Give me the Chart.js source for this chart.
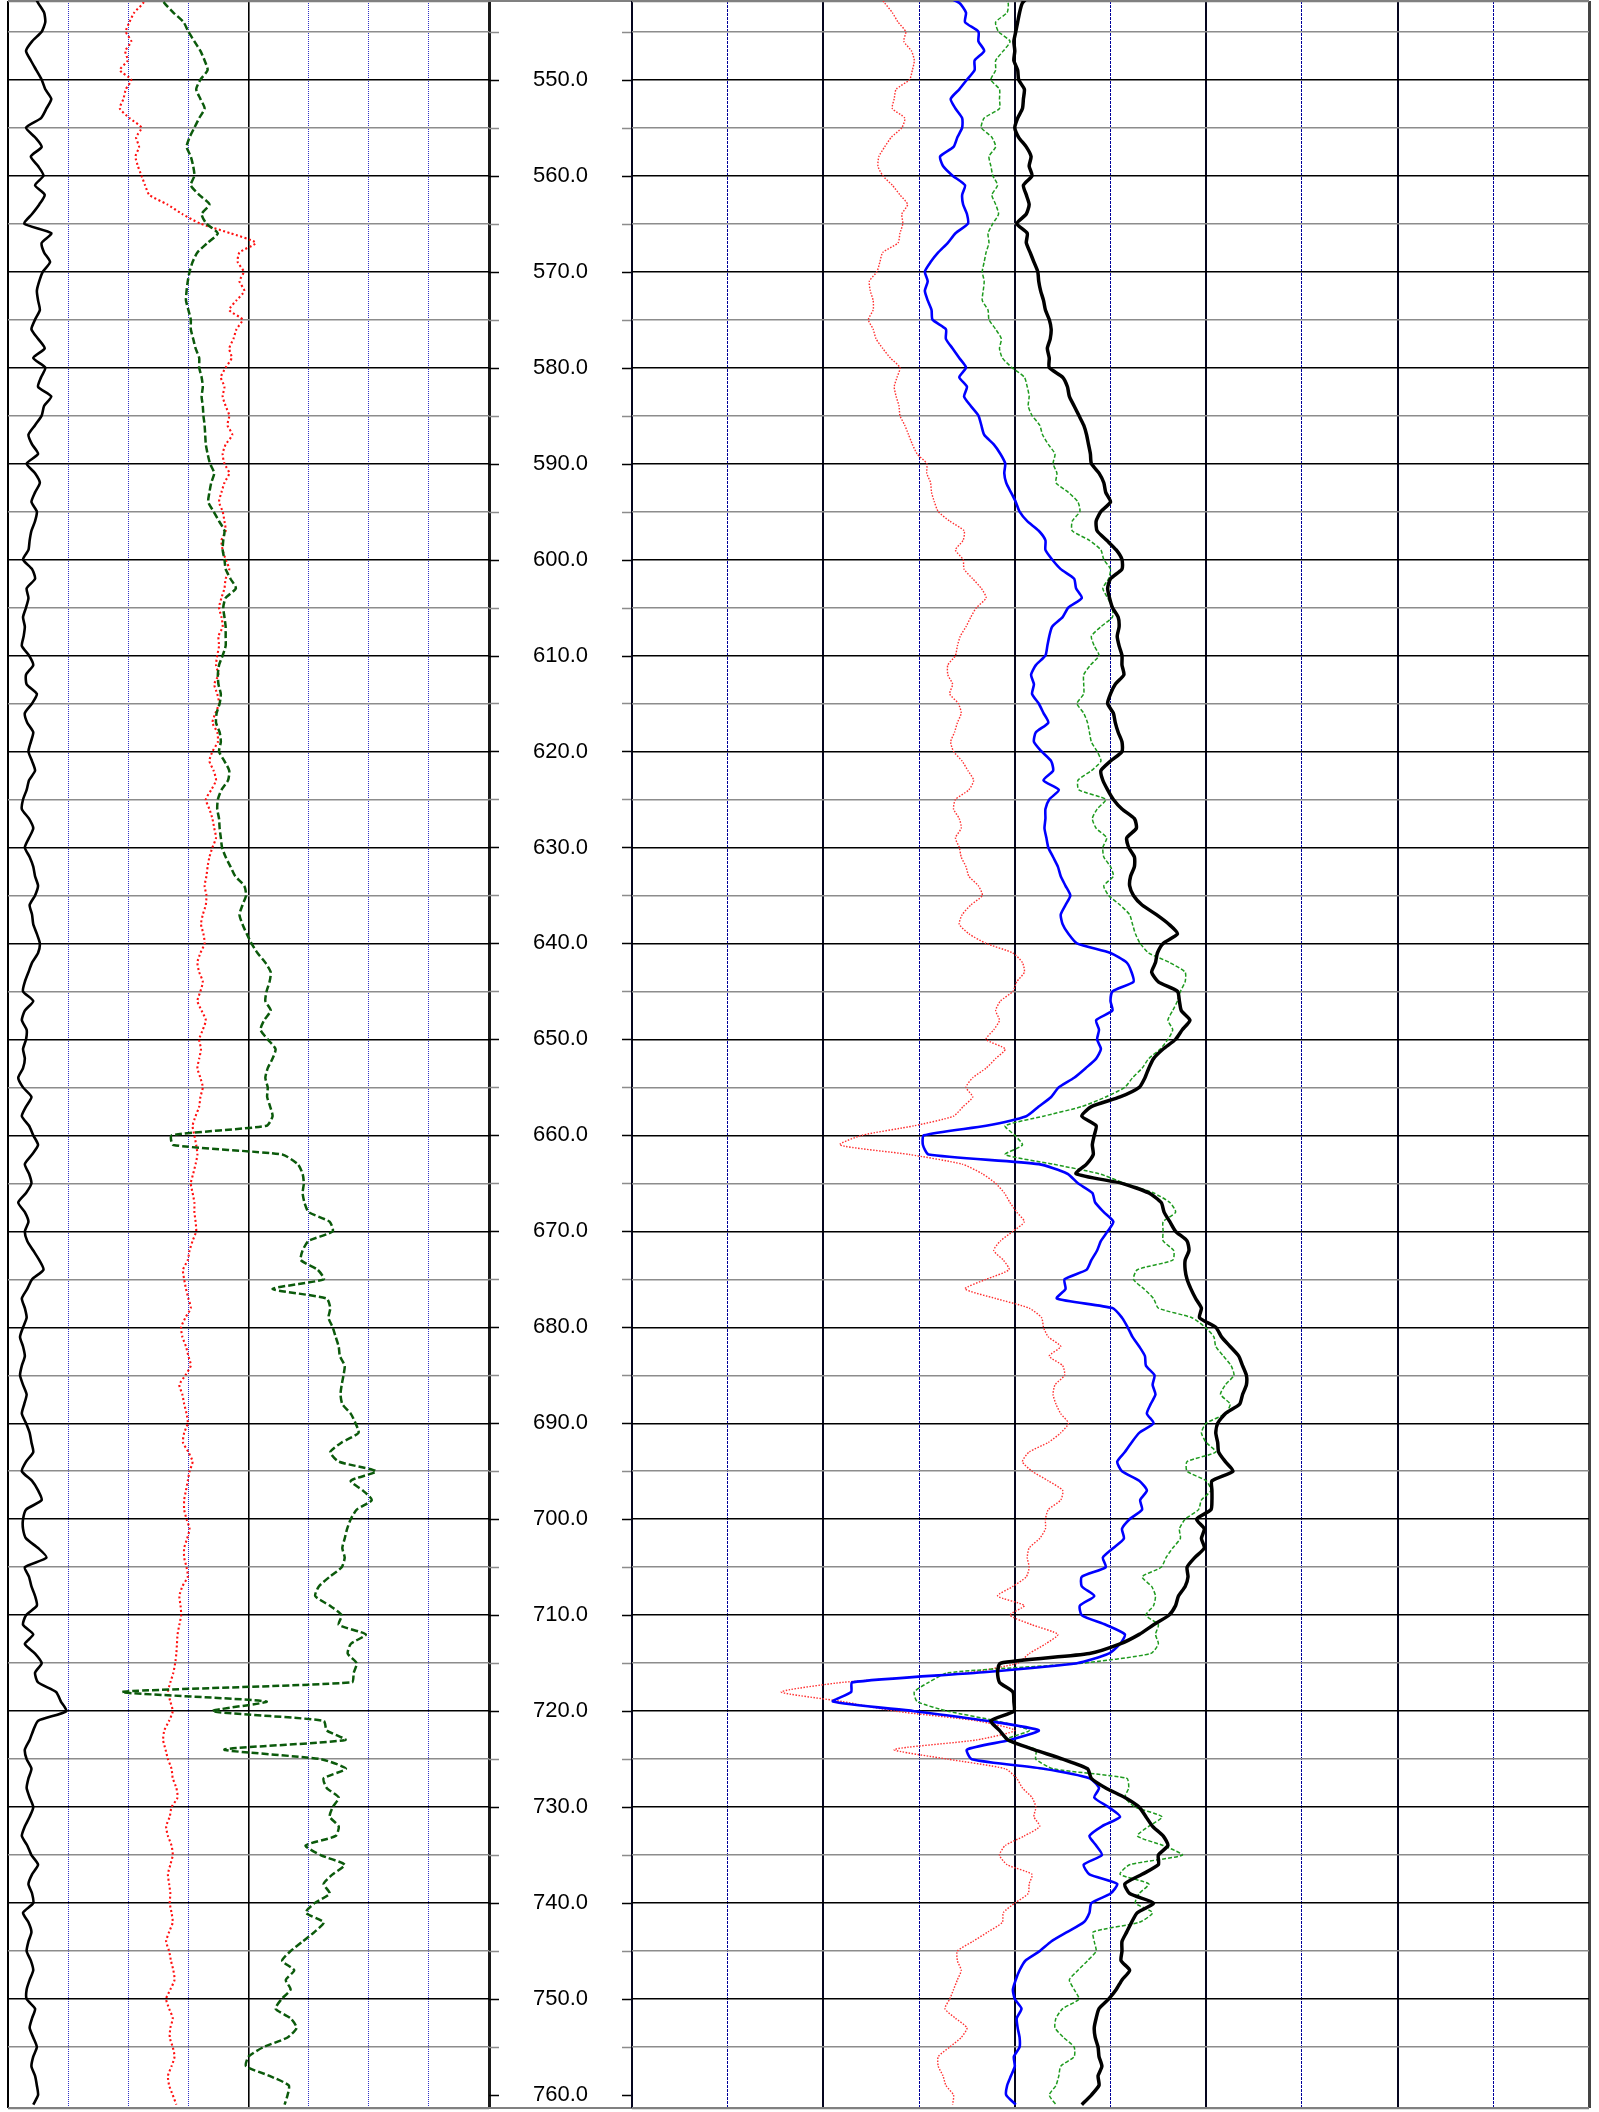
<!DOCTYPE html>
<html><head><meta charset="utf-8">
<script src="https://cdn.jsdelivr.net/npm/chart.js@4.4.1/dist/chart.umd.min.js"></script>
<style>
html,body{margin:0;padding:0;background:#fff;width:1599px;height:2112px;overflow:hidden;}
canvas{position:absolute;top:0;}
</style></head><body>
<canvas id="cl" width="489" height="2112" style="left:4px"></canvas>
<canvas id="cd" width="151" height="2112" style="left:485px"></canvas>
<canvas id="cr" width="965" height="2112" style="left:628px"></canvas>
<script>
// ---- depth index (category axis) ----
const depth = [541,542,543,544,545,546,547,548,549,550,551,552,553,554,555,556,557,558,559,560,
561,562,563,564,565,566,567,568,569,570,571,572,573,574,575,576,577,578,579,580,
581,582,583,584,585,586,587,588,589,590,591,592,593,594,595,596,597,598,599,600,
601,602,603,604,605,606,607,608,609,610,611,612,613,614,615,616,617,618,619,620,
621,622,623,624,625,626,627,628,629,630,631,632,633,634,635,636,637,638,639,640,
641,642,643,644,645,646,647,648,649,650,651,652,653,654,655,656,657,658,659,660,
661,662,663,664,665,666,667,668,669,670,671,672,673,674,675,676,677,678,679,680,
681,682,683,684,685,686,687,688,689,690,691,692,693,694,695,696,697,698,699,700,
701,702,703,704,705,706,707,708,709,710,711,712,713,714,715,716,717,718,719,720,
721,722,723,724,725,726,727,728,729,730,731,732,733,734,735,736,737,738,739,740,
741,742,743,744,745,746,747,748,749,750,751,752,753,754,755,756,757,758,759,760,761];

// depth track tick marks and labels
const depthTicks = [545,550,555,560,565,570,575,580,585,590,595,600,605,610,615,620,625,630,635,640,645,650,655,660,665,670,675,680,685,690,695,700,705,710,715,720,725,730,735,740,745,750,755,760];
const depthLabels = [550,560,570,580,590,600,610,620,630,640,650,660,670,680,690,700,710,720,730,740,750,760];

// ---- left track (divisions 0..8) ----
const leftBlack = [0.42,0.50,0.60,0.62,0.56,0.40,0.30,0.38,0.47,0.56,
0.62,0.72,0.64,0.55,0.30,0.45,0.56,0.38,0.50,0.59,
0.45,0.61,0.52,0.40,0.27,0.72,0.56,0.60,0.70,0.58,
0.52,0.48,0.50,0.53,0.45,0.39,0.50,0.61,0.42,0.62,
0.55,0.50,0.72,0.60,0.56,0.45,0.34,0.40,0.50,0.31,
0.45,0.53,0.45,0.39,0.48,0.45,0.39,0.36,0.34,0.25,
0.40,0.45,0.31,0.34,0.30,0.25,0.28,0.26,0.23,0.35,
0.42,0.30,0.31,0.48,0.40,0.28,0.32,0.42,0.38,0.34,
0.40,0.45,0.35,0.31,0.25,0.23,0.35,0.42,0.35,0.28,
0.36,0.42,0.45,0.50,0.45,0.36,0.40,0.42,0.48,0.53,
0.50,0.40,0.34,0.28,0.25,0.42,0.28,0.23,0.31,0.30,
0.25,0.28,0.25,0.17,0.25,0.39,0.30,0.23,0.35,0.42,
0.50,0.40,0.28,0.35,0.39,0.30,0.17,0.28,0.34,0.28,
0.32,0.42,0.52,0.59,0.40,0.32,0.23,0.28,0.31,0.25,
0.20,0.25,0.28,0.23,0.20,0.25,0.31,0.27,0.23,0.30,
0.36,0.39,0.42,0.30,0.23,0.40,0.50,0.56,0.30,0.25,
0.25,0.30,0.50,0.64,0.28,0.35,0.39,0.45,0.48,0.30,
0.25,0.42,0.28,0.45,0.56,0.45,0.50,0.80,0.88,0.97,
0.50,0.42,0.36,0.28,0.31,0.39,0.34,0.31,0.36,0.42,
0.36,0.28,0.23,0.32,0.39,0.50,0.40,0.34,0.40,0.42,
0.25,0.34,0.39,0.34,0.31,0.38,0.42,0.36,0.31,0.31,
0.45,0.40,0.36,0.42,0.48,0.42,0.39,0.45,0.48,0.50,0.42];

const leftRed = [2.30,2.25,2.10,2.02,1.96,2.05,1.95,1.99,1.86,2.05,
1.96,1.92,1.86,2.02,2.22,2.13,2.18,2.12,2.16,2.22,
2.28,2.35,2.65,2.90,3.20,3.70,4.12,3.85,3.82,3.92,
3.85,3.93,3.80,3.68,3.90,3.80,3.75,3.68,3.72,3.62,
3.54,3.60,3.57,3.62,3.68,3.65,3.73,3.62,3.57,3.60,
3.68,3.60,3.55,3.51,3.57,3.60,3.62,3.55,3.57,3.62,
3.68,3.62,3.60,3.55,3.51,3.55,3.57,3.50,3.51,3.48,
3.46,3.50,3.43,3.48,3.51,3.45,3.40,3.48,3.49,3.40,
3.35,3.42,3.46,3.38,3.29,3.35,3.40,3.43,3.46,3.40,
3.35,3.32,3.30,3.27,3.30,3.29,3.24,3.21,3.25,3.27,
3.20,3.15,3.18,3.24,3.20,3.15,3.22,3.29,3.24,3.18,
3.21,3.18,3.15,3.20,3.24,3.20,3.18,3.12,3.07,3.10,
3.13,3.15,3.12,3.08,3.04,3.07,3.10,3.10,3.12,3.13,
3.07,3.02,2.99,2.91,2.93,2.96,3.00,3.04,2.95,2.88,
2.90,2.96,3.00,3.04,2.95,2.85,2.90,2.93,2.97,2.99,
2.93,2.91,3.00,3.07,3.02,2.99,2.96,2.93,2.93,2.97,
3.02,2.98,2.93,2.93,2.97,2.99,2.90,2.85,2.87,2.88,
2.85,2.82,2.81,2.80,2.78,2.75,2.70,2.66,2.70,2.74,
2.68,2.60,2.58,2.62,2.66,2.72,2.74,2.80,2.82,2.72,
2.69,2.63,2.66,2.72,2.74,2.70,2.66,2.68,2.70,2.69,
2.72,2.74,2.68,2.63,2.68,2.71,2.75,2.77,2.70,2.63,
2.68,2.74,2.70,2.69,2.74,2.77,2.72,2.66,2.68,2.74,2.80];

const leftGreen = [2.50,2.60,2.75,2.92,3.00,3.10,3.20,3.27,3.32,3.20,
3.13,3.20,3.27,3.18,3.10,3.02,2.97,3.04,3.08,3.10,
3.04,3.18,3.35,3.22,3.30,3.49,3.32,3.15,3.07,3.02,
2.99,2.97,2.96,3.00,3.04,3.04,3.08,3.12,3.18,3.18,
3.22,3.24,3.22,3.24,3.25,3.27,3.28,3.29,3.32,3.36,
3.43,3.38,3.35,3.33,3.42,3.51,3.60,3.58,3.57,3.60,
3.62,3.70,3.79,3.62,3.58,3.60,3.62,3.62,3.62,3.57,
3.51,3.49,3.50,3.54,3.52,3.47,3.46,3.52,3.54,3.51,
3.60,3.68,3.66,3.55,3.49,3.48,3.51,3.52,3.54,3.56,
3.62,3.70,3.78,3.93,3.96,3.90,3.85,3.90,3.97,4.05,
4.15,4.28,4.37,4.35,4.30,4.28,4.37,4.26,4.20,4.32,
4.45,4.40,4.32,4.28,4.32,4.31,4.36,4.40,4.30,2.72,
2.75,4.56,4.82,4.90,4.92,4.90,4.93,5.00,5.35,5.40,
5.00,4.90,4.87,5.15,5.25,4.40,5.30,5.36,5.33,5.40,
5.45,5.50,5.52,5.60,5.58,5.55,5.53,5.56,5.70,5.78,
5.83,5.55,5.36,5.50,6.12,5.70,5.90,6.05,5.80,5.70,
5.64,5.60,5.56,5.60,5.55,5.35,5.17,5.11,5.35,5.55,
5.50,5.95,5.70,5.65,5.80,5.75,5.72,1.90,4.30,3.40,
5.25,5.30,5.61,3.60,5.20,5.62,5.25,5.30,5.50,5.40,
5.35,5.50,5.45,4.95,5.20,5.60,5.40,5.25,5.35,5.10,
4.95,5.25,5.10,4.90,4.70,4.56,4.76,4.62,4.70,4.55,
4.45,4.70,4.80,4.65,4.25,4.00,3.96,4.35,4.67,4.65,4.60];

// ---- right track (divisions 0..10) ----
const rightRed = [2.57,2.64,2.72,2.78,2.86,2.84,2.92,2.95,2.93,2.90,
2.76,2.74,2.72,2.85,2.82,2.71,2.64,2.58,2.57,2.62,
2.72,2.80,2.88,2.82,2.83,2.80,2.78,2.62,2.59,2.56,
2.48,2.49,2.52,2.52,2.47,2.52,2.55,2.62,2.70,2.80,
2.77,2.74,2.76,2.79,2.80,2.85,2.89,2.93,2.98,3.08,
3.08,3.12,3.13,3.16,3.20,3.32,3.47,3.46,3.38,3.46,
3.47,3.56,3.65,3.70,3.60,3.54,3.49,3.43,3.40,3.38,
3.30,3.30,3.35,3.32,3.41,3.44,3.40,3.37,3.33,3.36,
3.45,3.51,3.57,3.52,3.38,3.36,3.42,3.44,3.38,3.42,
3.44,3.49,3.52,3.62,3.66,3.54,3.45,3.42,3.52,3.70,
3.98,4.08,4.10,4.02,3.98,3.85,3.80,3.84,3.78,3.70,
3.90,3.80,3.70,3.56,3.49,3.56,3.46,3.36,2.95,2.40,
2.17,2.90,3.45,3.66,3.80,3.89,3.95,4.02,4.10,3.98,
3.85,3.78,3.88,3.94,3.70,3.48,3.80,4.15,4.28,4.30,
4.35,4.48,4.36,4.50,4.52,4.42,4.40,4.43,4.48,4.56,
4.48,4.35,4.15,4.08,4.18,4.35,4.50,4.48,4.35,4.32,
4.32,4.26,4.15,4.13,4.15,4.12,3.98,3.82,4.10,3.95,
4.18,4.45,4.32,4.15,4.03,3.50,2.20,1.56,2.20,2.75,
3.60,4.00,3.60,2.74,3.30,3.90,4.02,4.08,4.18,4.22,
4.20,4.26,4.10,3.90,3.84,3.92,4.18,4.15,4.14,4.00,
3.88,3.87,3.72,3.56,3.40,3.40,3.44,3.40,3.36,3.32,
3.27,3.38,3.50,3.44,3.32,3.20,3.20,3.25,3.28,3.36,3.35];

const rightBlue = [3.20,3.42,3.49,3.48,3.62,3.62,3.68,3.58,3.58,3.50,
3.42,3.33,3.38,3.45,3.45,3.40,3.36,3.22,3.25,3.35,
3.48,3.45,3.46,3.50,3.51,3.38,3.30,3.20,3.12,3.06,
3.09,3.06,3.09,3.13,3.14,3.28,3.28,3.35,3.42,3.49,
3.42,3.50,3.47,3.54,3.62,3.65,3.68,3.78,3.85,3.90,
3.89,3.91,3.96,4.01,4.05,4.13,4.25,4.32,4.32,4.39,
4.48,4.62,4.64,4.70,4.56,4.50,4.39,4.36,4.34,4.32,
4.22,4.17,4.20,4.18,4.25,4.30,4.35,4.22,4.20,4.28,
4.38,4.40,4.30,4.46,4.36,4.32,4.32,4.31,4.33,4.35,
4.40,4.45,4.48,4.53,4.58,4.53,4.48,4.50,4.56,4.65,
5.00,5.17,5.22,5.24,5.02,5.00,5.02,4.85,4.88,4.86,
4.90,4.85,4.74,4.62,4.46,4.38,4.25,4.12,3.70,3.05,
3.04,3.10,4.25,4.55,4.66,4.81,4.84,4.93,5.03,4.97,
4.90,4.86,4.80,4.75,4.52,4.53,4.44,5.02,5.12,5.18,
5.23,5.30,5.36,5.37,5.46,5.44,5.47,5.42,5.38,5.45,
5.30,5.22,5.15,5.07,5.12,5.30,5.38,5.31,5.33,5.20,
5.12,5.14,5.03,4.92,4.95,4.70,4.70,4.83,4.68,4.70,
4.95,5.15,5.10,4.98,4.65,3.60,2.30,2.29,2.10,2.95,
3.70,4.25,3.95,3.50,3.55,4.30,4.78,4.88,4.83,4.98,
5.10,4.91,4.78,4.85,4.91,4.72,4.78,5.07,5.00,4.80,
4.78,4.72,4.55,4.38,4.26,4.11,4.05,4.01,3.98,4.00,
4.07,4.02,4.03,4.05,4.05,3.99,4.00,3.96,3.92,3.91,4.01];

const rightGreen = [3.85,3.93,3.92,3.80,3.83,3.95,3.88,3.80,3.80,3.75,
3.84,3.84,3.84,3.68,3.65,3.76,3.80,3.73,3.75,3.77,
3.82,3.76,3.80,3.83,3.77,3.72,3.73,3.70,3.68,3.66,
3.68,3.67,3.66,3.72,3.73,3.80,3.86,3.84,3.87,3.97,
4.10,4.13,4.15,4.14,4.18,4.26,4.29,4.35,4.42,4.40,
4.44,4.43,4.56,4.66,4.68,4.60,4.60,4.78,4.90,4.93,
5.00,4.98,4.92,4.97,5.02,5.02,4.90,4.80,4.83,4.88,
4.79,4.72,4.72,4.72,4.65,4.72,4.76,4.78,4.80,4.86,
4.90,4.80,4.66,4.67,4.95,4.86,4.81,4.85,4.96,4.92,
4.93,5.00,5.03,4.93,4.98,5.10,5.20,5.23,5.26,5.31,
5.40,5.62,5.78,5.78,5.73,5.70,5.65,5.60,5.65,5.60,
5.52,5.40,5.33,5.23,5.15,4.95,4.70,4.30,3.90,4.00,
4.08,3.90,4.40,4.88,5.15,5.45,5.62,5.68,5.55,5.55,
5.55,5.66,5.65,5.28,5.24,5.35,5.45,5.50,5.85,5.99,
6.08,6.10,6.18,6.26,6.29,6.20,6.15,6.25,6.20,6.00,
5.95,6.00,6.10,5.80,5.80,6.00,6.05,5.95,5.92,5.78,
5.72,5.73,5.65,5.58,5.53,5.33,5.43,5.47,5.45,5.37,
5.50,5.47,5.50,5.42,4.70,3.30,3.10,2.95,2.98,3.30,
3.80,4.15,3.90,4.22,4.22,4.40,5.17,5.19,5.15,5.26,
5.54,5.40,5.28,5.55,5.75,5.20,5.10,5.40,5.30,5.26,
5.44,5.30,4.82,4.83,4.85,4.76,4.66,4.57,4.62,4.67,
4.50,4.43,4.42,4.51,4.62,4.62,4.48,4.46,4.43,4.36,4.43];

const rightBlack = [4.18,4.08,4.05,4.03,4.01,3.99,4.00,3.99,4.03,4.04,
4.10,4.09,4.08,4.03,4.00,4.04,4.12,4.17,4.15,4.18,
4.09,4.12,4.15,4.12,4.02,4.13,4.12,4.16,4.20,4.24,
4.25,4.27,4.30,4.32,4.36,4.38,4.37,4.34,4.36,4.36,
4.50,4.55,4.57,4.62,4.67,4.72,4.75,4.77,4.79,4.80,
4.88,4.93,4.95,5.00,4.90,4.85,4.86,4.96,5.06,5.12,
5.12,5.00,4.97,4.99,5.02,5.08,5.09,5.07,5.09,5.12,
5.12,5.14,5.05,5.00,4.97,5.03,5.05,5.08,5.12,5.12,
5.00,4.90,4.92,4.97,5.03,5.12,5.25,5.27,5.17,5.19,
5.25,5.25,5.21,5.20,5.24,5.33,5.48,5.61,5.70,5.55,
5.49,5.47,5.43,5.50,5.70,5.72,5.74,5.83,5.75,5.68,
5.55,5.45,5.40,5.36,5.30,5.10,4.80,4.70,4.85,4.83,
4.81,4.82,4.75,4.64,5.12,5.40,5.53,5.56,5.62,5.68,
5.80,5.82,5.78,5.78,5.80,5.84,5.89,5.95,5.93,6.10,
6.16,6.25,6.34,6.38,6.42,6.42,6.38,6.35,6.20,6.12,
6.10,6.12,6.13,6.20,6.28,6.06,6.06,6.06,6.05,5.90,
5.98,5.95,5.98,5.88,5.80,5.81,5.78,5.71,5.68,5.61,
5.45,5.30,5.10,4.78,3.85,3.82,3.84,3.98,3.99,3.99,
3.75,3.84,3.93,4.20,4.50,4.76,4.80,4.95,5.15,5.30,
5.37,5.44,5.55,5.60,5.50,5.50,5.33,5.15,5.20,5.45,
5.28,5.22,5.17,5.12,5.12,5.11,5.20,5.12,5.06,4.98,
4.88,4.85,4.83,4.84,4.87,4.88,4.91,4.87,4.88,4.80,4.70];

// ---- rendering ----
const DMIN = 541.8, DMAX = 761.35;
const PAD = {left:4, right:4, top:1, bottom:4};
const pts = vals => depth.map((d, i) => ({x: vals[i], y: d}));

function hColor(v){ if (v % 10 === 0) return '#000000'; if (v % 5 === 0) return '#8c8c8c'; return '#808080'; }
function hWidth(v){ if (v % 10 === 0) return 1.5; if (v % 5 === 0) return 1.5; return 2.2; }

function yScale(){
  return {type:'linear', min:DMIN, max:DMAX, reverse:true,
    ticks:{display:false, stepSize:5},
    grid:{drawTicks:false, color:c => c.tick ? hColor(c.tick.value) : '#888', lineWidth:c => c.tick ? hWidth(c.tick.value) : 1},
    border:{display:false}};
}
function xScale(max, majorEvery, colorFn, widthFn, minorDash){
  return {type:'linear', min:0, max:max,
    ticks:{display:false, stepSize:1},
    grid:{drawTicks:false, color:colorFn, lineWidth:widthFn},
    border:{display:false, dash:c => (c.tick && c.tick.value % majorEvery !== 0) ? minorDash : []}};
}
function lineDs(vals, color, width, dash){
  return {data:pts(vals), borderColor:color, borderWidth:width, borderDash:dash||[], pointRadius:0, fill:false, tension:0.2};
}
const common = {responsive:false, animation:false, devicePixelRatio:1, indexAxis:'y',
  layout:{padding:PAD}, plugins:{legend:{display:false}, tooltip:{enabled:false}}, events:[]};

new Chart(document.getElementById('cl'), {
  type:'line',
  data:{datasets:[
    lineDs(leftBlack, '#000000', 2.6),
    lineDs(leftGreen, '#0b5a0b', 2.5, [7,3]),
    lineDs(leftRed, '#ff1010', 2.1, [2,2.5])
  ]},
  options:Object.assign({}, common, {scales:{
    x:xScale(8, 4,
      c => { const v = c.tick ? c.tick.value : 0; return v === 8 ? '#1a1a1a' : (v % 4 === 0 ? '#000000' : '#3030c8'); },
      c => { const v = c.tick ? c.tick.value : 0; return v === 8 ? 3 : (v === 0 ? 2 : (v % 4 === 0 ? 1.6 : 1)); },
      [1,1]),
    y:yScale()}})
});

new Chart(document.getElementById('cr'), {
  type:'line',
  data:{datasets:[
    lineDs(rightBlack, '#000000', 3.5),
    lineDs(rightBlue, '#0000ff', 2.6),
    lineDs(rightGreen, '#1e9a1e', 1.5, [4,2]),
    lineDs(rightRed, '#ff3030', 1.4, [1.5,1.5])
  ]},
  options:Object.assign({}, common, {scales:{
    x:xScale(10, 2,
      c => { const v = c.tick ? c.tick.value : 0; return v === 10 ? '#444444' : (v % 2 === 0 ? '#05051e' : '#00009a'); },
      c => { const v = c.tick ? c.tick.value : 0; return v === 10 ? 3 : (v % 2 === 0 ? 2 : 1); },
      [3,1]),
    y:yScale()}})
});

const depthTrack = {
  id:'depthTrack',
  afterDraw(chart){
    const {ctx, chartArea:a, scales:{y}} = chart;
    ctx.save();
    depthTicks.forEach(v => {
      const py = Math.round(y.getPixelForValue(v)) + 0.5;
      ctx.strokeStyle = v % 10 === 0 ? '#000000' : '#8c8c8c';
      ctx.lineWidth = 1.5;
      ctx.beginPath();
      ctx.moveTo(a.left, py); ctx.lineTo(a.left + 10, py);
      ctx.moveTo(a.right - 10, py); ctx.lineTo(a.right, py);
      ctx.stroke();
    });
    ctx.strokeStyle = '#808080'; ctx.lineWidth = 2.2;
    [DMIN, DMAX].forEach(v => {
      const py = Math.round(y.getPixelForValue(v));
      ctx.beginPath(); ctx.moveTo(a.left, py); ctx.lineTo(a.right, py); ctx.stroke();
    });
    ctx.fillStyle = '#000';
    ctx.font = '22px "Liberation Sans", Arial, sans-serif';
    ctx.textAlign = 'center'; ctx.textBaseline = 'middle';
    depthLabels.forEach(v => ctx.fillText(v.toFixed(1), (a.left + a.right) / 2, y.getPixelForValue(v)));
    ctx.restore();
  }
};
new Chart(document.getElementById('cd'), {
  type:'line',
  data:{datasets:[]},
  options:Object.assign({}, common, {scales:{
    x:{type:'linear', display:false, min:0, max:1},
    y:{type:'linear', display:false, min:DMIN, max:DMAX, reverse:true}}}),
  plugins:[depthTrack]
});
</script>
</body></html>
